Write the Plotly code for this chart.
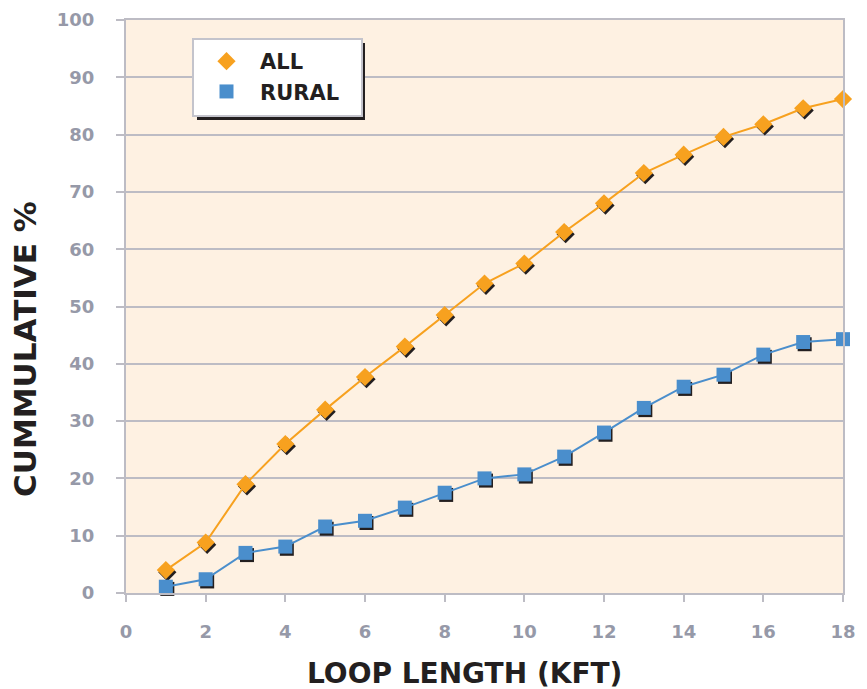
import plotly.graph_objects as go

loop_kft = [1, 2, 3, 4, 5, 6, 7, 8, 9, 10, 11, 12, 13, 14, 15, 16, 17, 18]
all_pct = [4.0, 8.8, 19.0, 26.0, 32.0, 37.7, 43.0, 48.5, 54.0, 57.5, 63.0, 68.0, 73.3, 76.5, 79.6, 81.8, 84.6, 86.2]
rural_pct = [1.1, 2.4, 7.0, 8.1, 11.6, 12.6, 14.9, 17.5, 20.0, 20.7, 23.8, 28.0, 32.3, 36.0, 38.1, 41.6, 43.8, 44.3]
x_ticks = [0, 2, 4, 6, 8, 10, 12, 14, 16, 18]
y_ticks = [0, 10, 20, 30, 40, 50, 60, 70, 80, 90, 100]
x_title = "LOOP LENGTH (KFT)"
y_title = "CUMMULATIVE %"

ORANGE = "#F7A11F"
BLUE = "#4A8ECC"
GRID = "#BDBCC4"
TICKC = "#9699A8"
BG = "#FEF1E2"
INK = "#231F20"

# page has an 8px body margin, so the figure is 8px smaller
W, H = 859, 681
ML, MR, MT, MB = 118, 24, 12, 96
pw = W - ML - MR
ph = H - MT - MB
XR = [0, 18]
YR = [0, 100]
dx = 1.5 * (XR[1] - XR[0]) / pw
dy = 2.2 * (YR[1] - YR[0]) / ph

def px_x(p):  # screen px -> paper x
    return (p - (ML + 8)) / pw

def px_y(p):  # screen px -> paper y
    return (MT + 8 + ph - p) / ph

fig = go.Figure()

fig.add_trace(go.Scatter(x=loop_kft, y=all_pct, mode="markers", xaxis="x", yaxis="y",
                         marker=dict(opacity=0), showlegend=False, hoverinfo="skip"))

for ys, sym, sz in [(all_pct, "diamond", 14), (rural_pct, "square", 14)]:
    fig.add_trace(go.Scatter(x=loop_kft, y=ys, mode="markers", xaxis="x2", yaxis="y2",
                             marker=dict(symbol=sym, size=sz, color=INK),
                             showlegend=False, hoverinfo="skip", cliponaxis=False))

for ys, col in [(all_pct, ORANGE), (rural_pct, BLUE)]:
    fig.add_trace(go.Scatter(x=loop_kft, y=ys, mode="lines", xaxis="x3", yaxis="y3",
                             line=dict(color=col, width=2), showlegend=False,
                             hoverinfo="skip", cliponaxis=False))

fig.add_trace(go.Scatter(x=loop_kft, y=all_pct, mode="markers", name="ALL",
                         xaxis="x3", yaxis="y3", cliponaxis=False,
                         marker=dict(symbol="diamond", size=14, color=ORANGE)))
fig.add_trace(go.Scatter(x=loop_kft, y=rural_pct, mode="markers", name="RURAL",
                         xaxis="x3", yaxis="y3", cliponaxis=False,
                         marker=dict(symbol="square", size=14, color=BLUE)))

tickfont = dict(family="DejaVu Sans", size=18, color=TICKC, weight="bold")

fig.update_layout(
    width=W, height=H,
    margin=dict(l=ML, r=MR, t=MT, b=MB, autoexpand=False),
    paper_bgcolor="white",
    plot_bgcolor=BG,
    xaxis=dict(range=XR, tickvals=x_ticks, showgrid=False, zeroline=False,
               showline=True, linecolor=GRID, linewidth=2, mirror=True,
               ticks="outside", ticklen=7, tickwidth=2, tickcolor=GRID,
               tickfont=tickfont, ticklabelstandoff=14, automargin=False),
    yaxis=dict(range=YR, tickvals=y_ticks, showgrid=True, gridcolor=GRID, gridwidth=2,
               zeroline=False, showline=True, linecolor=GRID, linewidth=2, mirror=True,
               ticks="outside", ticklen=8, tickwidth=2, tickcolor=GRID,
               tickfont=tickfont, ticklabelstandoff=18, automargin=False),
    xaxis2=dict(range=[XR[0] - dx, XR[1] - dx], overlaying="x", visible=False),
    yaxis2=dict(range=[YR[0] + dy, YR[1] + dy], overlaying="y", visible=False),
    xaxis3=dict(range=XR, overlaying="x", visible=False),
    yaxis3=dict(range=YR, overlaying="y", visible=False),
    legend=dict(x=px_x(193), y=px_y(41), xanchor="left", yanchor="top",
                bgcolor="rgba(0,0,0,0)", borderwidth=0,
                font=dict(family="DejaVu Sans", size=21, color=INK, weight="bold"),
                itemwidth=57, tracegroupgap=0),
    showlegend=True,
)

fig.add_annotation(text=x_title, xref="paper", yref="paper", x=px_x(464), y=px_y(673),
                   xanchor="center", yanchor="middle", showarrow=False,
                   font=dict(family="DejaVu Sans", size=28, color=INK, weight="bold"))
fig.add_annotation(text=y_title, xref="paper", yref="paper", x=px_x(25), y=px_y(349),
                   xanchor="center", yanchor="middle", showarrow=False, textangle=-90,
                   font=dict(family="DejaVu Sans", size=31, color=INK, weight="bold"))

# legend box with drop shadow
fig.add_shape(type="rect", xref="paper", yref="paper",
              x0=px_x(197), x1=px_x(365), y0=px_y(120), y1=px_y(43),
              fillcolor=INK, line=dict(width=0), layer="above")
fig.add_shape(type="rect", xref="paper", yref="paper",
              x0=px_x(193), x1=px_x(362), y0=px_y(116), y1=px_y(39),
              fillcolor="white", line=dict(color="#C4C4CC", width=2), layer="above")

fig.write_html("out.html")
